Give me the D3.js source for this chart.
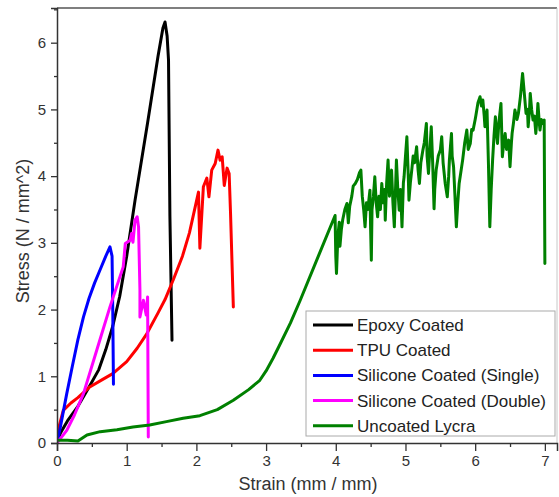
<!DOCTYPE html>
<html>
<head>
<meta charset="utf-8">
<script src="https://cdn.jsdelivr.net/npm/d3@7"></script>
<style>
  body { margin: 0; background: #fff; }
  text { font-family: "Liberation Sans", Arial, sans-serif; }
</style>
</head>
<body>
<div id="chart"></div>
<script>
// stress / strain curves

///////////////
// data      //
///////////////

const seriesNames = ["Epoxy Coated", "TPU Coated", "Silicone Coated (Single)", "Silicone Coated (Double)", "Uncoated Lycra"];
const seriesColors = ["#000000", "#ff0000", "#0000ff", "#ff00ff", "#008000"];

// [strain, stress]
const epoxy = [[0,0],[0.05,0.15],[0.15,0.33],[0.3,0.55],[0.45,0.82],[0.6,1.1],[0.7,1.4],[0.8,1.75],
  [0.9,2.2],[1.0,2.8],[1.12,3.64],[1.3,4.8],[1.45,5.8],[1.52,6.22],[1.55,6.31],[1.58,6.1],[1.6,5.74],
  [1.62,3.4],[1.65,1.54]];

const tpu = [[0,0],[0.03,0.25],[0.09,0.49],[0.2,0.6],[0.3,0.68],[0.47,0.84],[0.65,0.95],[0.8,1.04],
  [1.0,1.22],[1.15,1.42],[1.29,1.64],[1.45,1.95],[1.55,2.15],[1.67,2.45],[1.8,2.8],[1.9,3.15],
  [2.03,3.76],[2.05,2.92],[2.1,3.84],[2.15,3.97],[2.18,3.69],[2.22,4.09],[2.27,4.19],[2.31,4.39],
  [2.34,4.24],[2.37,4.29],[2.4,3.86],[2.44,4.12],[2.47,4.04],[2.49,3.44],[2.53,2.04]];

const siliconeSingle = [[0,0],[0.05,0.25],[0.14,0.74],[0.22,1.15],[0.3,1.55],[0.38,1.89],[0.46,2.17],
  [0.54,2.4],[0.62,2.6],[0.7,2.8],[0.76,2.94],[0.79,2.8],[0.8,2.0],[0.81,0.88]];

const siliconeDouble = [[0,0],[0.14,0.19],[0.25,0.42],[0.38,0.74],[0.57,1.39],[0.76,2.04],[0.95,2.64],
  [0.98,2.99],[1.05,3.04],[1.07,3.14],[1.09,3.01],[1.12,3.34],[1.15,3.39],[1.17,3.24],[1.19,2.29],
  [1.19,1.89],[1.24,2.14],[1.28,1.92],[1.3,2.19],[1.31,0.09]];

const uncoated = [[0,0.04],[0.15,0.04],[0.3,0.03],[0.43,0.12],[0.62,0.17],[0.86,0.2],[1.09,0.24],
  [1.33,0.27],[1.57,0.32],[1.81,0.37],[2.05,0.41],[2.3,0.5],[2.53,0.64],[2.75,0.8],[2.91,0.94],
  [3.0,1.08],[3.1,1.27],[3.2,1.48],[3.35,1.8],[3.49,2.14],[3.75,2.8],[3.99,3.41],[4.0,2.8],[4.01,2.54],[4.03,3.1],[4.05,3.31],
  [4.06,2.95],[4.08,3.2],[4.1,3.35],[4.13,3.5],[4.16,3.59],[4.18,3.3],[4.2,3.55],[4.23,3.7],
  [4.25,3.85],[4.28,3.89],[4.31,3.95],[4.34,4.05],[4.36,4.09],[4.38,3.7],[4.4,3.5],[4.42,3.24],
  [4.44,3.6],[4.46,3.5],[4.49,3.79],[4.5,3.2],[4.51,2.74],[4.52,3.5],[4.54,3.7],[4.56,3.99],
  [4.58,3.6],[4.6,3.39],[4.62,3.7],[4.64,3.5],[4.66,3.89],[4.68,3.6],[4.7,3.8],[4.71,3.34],
  [4.73,3.9],[4.75,4.24],[4.77,3.7],[4.78,3.95],[4.8,4.09],[4.82,3.6],[4.84,3.24],[4.86,3.9],
  [4.87,4.24],[4.89,3.8],[4.91,3.49],[4.93,3.8],[4.95,3.24],[4.97,3.9],[4.98,3.99],[5.0,4.3],
  [5.02,4.59],[5.04,4.0],[5.05,3.64],[5.07,3.9],[5.09,4.09],[5.11,4.3],[5.13,4.2],[5.16,4.44],
  [5.18,4.1],[5.2,3.89],[5.22,4.2],[5.25,4.39],[5.27,4.5],[5.3,4.79],[5.31,4.3],[5.33,4.04],
  [5.35,4.4],[5.37,4.74],[5.39,4.2],[5.41,3.51],[5.42,3.8],[5.44,4.09],[5.47,4.3],[5.5,4.39],
  [5.52,4.59],[5.54,4.2],[5.57,3.89],[5.6,3.69],[5.62,4.0],[5.63,4.24],[5.66,4.64],[5.67,4.3],
  [5.69,4.14],[5.71,3.7],[5.73,3.24],[5.75,3.6],[5.77,3.89],[5.8,4.1],[5.82,4.24],[5.85,4.5],
  [5.88,4.69],[5.9,4.4],[5.93,4.49],[5.95,4.7],[5.97,4.69],[6.0,4.85],[6.01,4.91],[6.04,5.1],
  [6.07,5.19],[6.09,5.05],[6.11,5.14],[6.13,4.9],[6.14,4.74],[6.16,4.9],[6.17,4.99],[6.19,4.2],
  [6.21,3.24],[6.23,3.8],[6.25,4.24],[6.27,4.6],[6.29,4.89],[6.31,4.6],[6.32,4.49],[6.34,4.8],
  [6.37,5.09],[6.38,4.7],[6.39,4.29],[6.41,4.5],[6.43,4.64],[6.45,4.4],[6.48,4.54],[6.5,4.14],
  [6.52,4.5],[6.53,4.64],[6.55,4.8],[6.57,4.99],[6.6,4.85],[6.62,4.94],[6.65,5.2],[6.68,5.54],
  [6.7,5.3],[6.73,4.94],[6.75,5.0],[6.76,4.74],[6.78,5.0],[6.79,5.24],[6.81,5.0],[6.83,4.84],
  [6.85,4.9],[6.87,4.64],[6.89,4.9],[6.9,5.09],[6.92,4.8],[6.93,4.69],[6.95,4.85],[6.96,4.79],
  [6.99,4.84],[7.0,2.69]];

const series = [epoxy, tpu, siliconeSingle, siliconeDouble, uncoated];

const xTicks = [0, 1, 2, 3, 4, 5, 6, 7];
const yTicks = [0, 1, 2, 3, 4, 5, 6];
const xMax = 7.174;
const yMax = 6.52;

///////////////
// layout    //
///////////////

const chartWidth = 559;
const chartHeight = 497;
const margin = {left: 57, top: 8, right: 2, bottom: 54};
const plotW = chartWidth - margin.left - margin.right;
const plotH = chartHeight - margin.top - margin.bottom;

var svg = d3.select("#chart").append("svg")
  .attr("width", chartWidth).attr("height", chartHeight);

var xScale = d3.scaleLinear().domain([0, xMax]).range([margin.left, margin.left + plotW]);
var yScale = d3.scaleLinear().domain([0, yMax]).range([margin.top + plotH, margin.top]);

svg.append("clipPath").attr("id", "plotclip")
  .append("rect")
  .attr("x", margin.left).attr("y", margin.top)
  .attr("width", plotW).attr("height", plotH);

// frame: top dark, right light
svg.append("line")
  .attr("x1", margin.left).attr("x2", margin.left + plotW)
  .attr("y1", margin.top).attr("y2", margin.top)
  .attr("stroke", "#555").attr("stroke-width", 1.5);
svg.append("line")
  .attr("x1", margin.left + plotW).attr("x2", margin.left + plotW)
  .attr("y1", margin.top).attr("y2", margin.top + plotH)
  .attr("stroke", "#c8c8c8").attr("stroke-width", 1);

// curves
const lineGenerator = d3.line()
  .x(function(d) { return xScale(d[0]); })
  .y(function(d) { return yScale(d[1]); });

var curves = svg.append("g").attr("clip-path", "url(#plotclip)");
series.forEach(function(s, i) {
  curves.append("path")
    .attr("d", lineGenerator(s))
    .attr("fill", "none")
    .attr("stroke", seriesColors[i])
    .attr("stroke-width", 3)
    .attr("stroke-linejoin", "round")
    .attr("stroke-linecap", "round");
});

// axes
var xMinor = d3.range(0.5, xMax, 1);
var yMinor = d3.range(0.5, yMax, 1);

svg.append("g")
  .attr("transform", "translate(0," + (margin.top + plotH) + ")")
  .call(d3.axisBottom(xScale).tickValues(xTicks).tickFormat(d3.format("d")).tickSize(8).tickPadding(4));
svg.append("g")
  .attr("transform", "translate(0," + (margin.top + plotH) + ")")
  .call(d3.axisBottom(xScale).tickValues(xMinor).tickFormat("").tickSize(4))
  .call(function(g) { g.select(".domain").remove(); });

svg.append("g")
  .attr("transform", "translate(" + margin.left + ",0)")
  .call(d3.axisLeft(yScale).tickValues(yTicks).tickFormat(d3.format("d")).tickSize(6).tickPadding(5));
svg.append("g")
  .attr("transform", "translate(" + margin.left + ",0)")
  .call(d3.axisLeft(yScale).tickValues(yMinor).tickFormat("").tickSize(3))
  .call(function(g) { g.select(".domain").remove(); });

svg.selectAll(".domain").attr("stroke", "#333").attr("stroke-width", 1.5);
svg.selectAll(".tick line").attr("stroke", "#333").attr("stroke-width", 1.3);
svg.selectAll(".tick text")
  .attr("fill", "#333")
  .style("font-size", "15px")
  .style("font-family", "'Liberation Sans', Arial, sans-serif");

// axis titles
svg.append("text")
  .attr("x", 308).attr("y", 490)
  .attr("text-anchor", "middle")
  .attr("fill", "#333")
  .style("font-size", "18px")
  .text("Strain (mm / mm)");

svg.append("text")
  .attr("transform", "translate(29,231) rotate(-90)")
  .attr("text-anchor", "middle")
  .attr("fill", "#333")
  .style("font-size", "18px")
  .text("Stress (N / mm^2)");

// legend
var legend = svg.append("g");
legend.append("rect")
  .attr("x", 306).attr("y", 311)
  .attr("width", 249).attr("height", 125)
  .attr("fill", "#fff")
  .attr("stroke", "#aaa").attr("stroke-width", 1);

seriesNames.forEach(function(name, i) {
  var yy = 325 + i * 25.2;
  legend.append("line")
    .attr("x1", 313).attr("x2", 353)
    .attr("y1", yy).attr("y2", yy)
    .attr("stroke", seriesColors[i]).attr("stroke-width", 3);
  legend.append("text")
    .attr("x", 357).attr("y", yy + 6)
    .attr("fill", "#222")
    .style("font-size", "17px")
    .text(name);
});
</script>
</body>
</html>
